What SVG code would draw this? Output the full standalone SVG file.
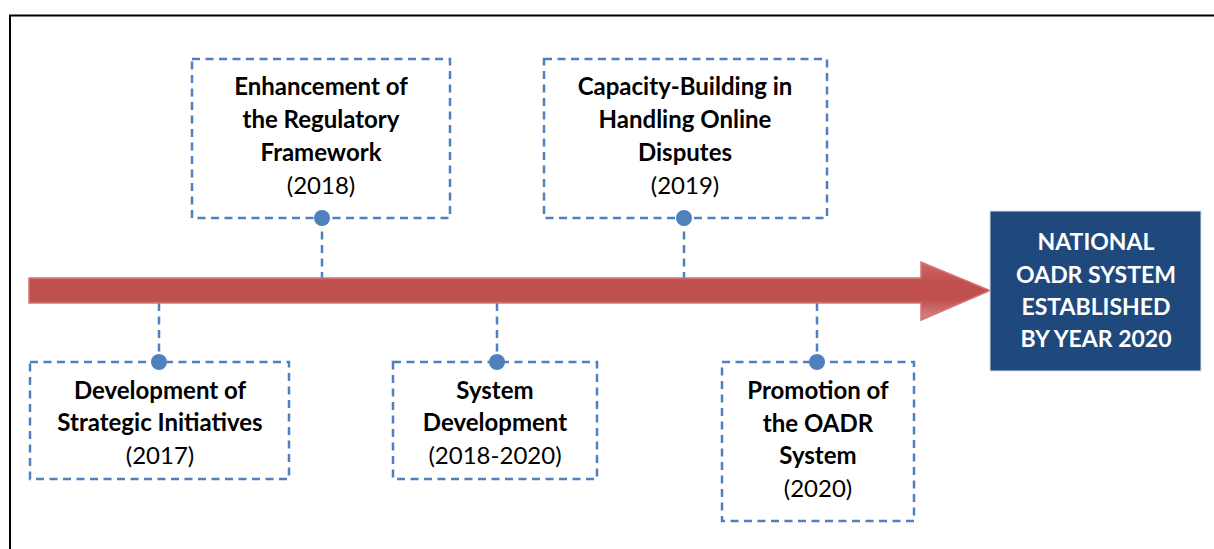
<svg xmlns="http://www.w3.org/2000/svg" width="1214" height="549" viewBox="0 0 1214 549">
  <defs>
    <style>
      .box { fill: #ffffff; stroke: #4F81BD; stroke-width: 2.5; stroke-dasharray: 8 5.5; }
      .link { fill: none; stroke: #4F81BD; stroke-width: 2.5; stroke-dasharray: 8 5.5; }
      .dot { fill: #4F81BD; }
      .t { font-family: Lato, "Open Sans", sans-serif; font-size: 24px; text-anchor: middle; fill: #000000; }
      .b { font-weight: bold; }
      .w { fill: #ffffff; font-weight: bold; font-size: 23px; }
    </style>
    <linearGradient id="arrowFill" x1="0" y1="0" x2="0" y2="1">
      <stop offset="0" stop-color="#CC6865"/>
      <stop offset="0.35" stop-color="#C0504D"/>
      <stop offset="0.65" stop-color="#C0504D"/>
      <stop offset="1" stop-color="#D58A88"/>
    </linearGradient>
  </defs>

  <rect x="0" y="0" width="1214" height="549" fill="#ffffff"/>

  <!-- page frame -->
  <path d="M10 560 V15.5 H1220" fill="none" stroke="#000000" stroke-width="2"/>

  <!-- connectors -->
  <g id="connectors">
    <line class="link" x1="322" y1="218" x2="322" y2="281"/>
    <line class="link" x1="684" y1="218" x2="684" y2="281"/>
    <line class="link" x1="159" y1="303" x2="159" y2="362"/>
    <line class="link" x1="497" y1="303" x2="497" y2="362"/>
    <line class="link" x1="817" y1="303" x2="817" y2="362"/>
  </g>

  <!-- timeline arrow -->
  <g id="timeline">
    <path d="M29 278 H921 V262 L990 290.5 L921 320 V303 H29 Z" fill="url(#arrowFill)" stroke="#D27673" stroke-width="1.5"/>
  </g>

  <g id="node-2018">
    <rect class="box" x="192" y="59" width="258" height="159"/>
    <text class="t b" x="321" y="95">Enhancement of</text>
    <text class="t b" x="321" y="128">the Regulatory</text>
    <text class="t b" x="321" y="161">Framework</text>
    <text class="t" x="321" y="194">(2018)</text>
    <circle class="dot" cx="322" cy="218" r="8"/>
  </g>

  <g id="node-2019">
    <rect class="box" x="544" y="59" width="283" height="159"/>
    <text class="t b" x="685" y="95">Capacity-Building in</text>
    <text class="t b" x="685" y="128">Handling Online</text>
    <text class="t b" x="685" y="161">Disputes</text>
    <text class="t" x="685" y="194">(2019)</text>
    <circle class="dot" cx="684" cy="218" r="8"/>
  </g>

  <g id="node-2017">
    <rect class="box" x="30" y="362" width="259" height="117"/>
    <text class="t b" x="160" y="399">Development of</text>
    <text class="t b" x="160" y="431">Strategic Initiatives</text>
    <text class="t" x="160" y="464">(2017)</text>
    <circle class="dot" cx="159" cy="362" r="8"/>
  </g>

  <g id="node-2018-2020">
    <rect class="box" x="393" y="362" width="204" height="117"/>
    <text class="t b" x="495" y="399">System</text>
    <text class="t b" x="495" y="431">Development</text>
    <text class="t" x="495" y="464">(2018-2020)</text>
    <circle class="dot" cx="497" cy="362" r="8"/>
  </g>

  <g id="node-2020">
    <rect class="box" x="722" y="362" width="192" height="159"/>
    <text class="t b" x="818" y="399">Promotion of</text>
    <text class="t b" x="818" y="432">the OADR</text>
    <text class="t b" x="818" y="464">System</text>
    <text class="t" x="818" y="497">(2020)</text>
    <circle class="dot" cx="817" cy="362" r="8"/>
  </g>

  <g id="goal">
    <rect x="990" y="211" width="211" height="160" fill="#1F497D" stroke="#D9E2EE" stroke-width="1"/>
    <text class="t w" x="1096" y="250">NATIONAL</text>
    <text class="t w" x="1096" y="283">OADR SYSTEM</text>
    <text class="t w" x="1096" y="315">ESTABLISHED</text>
    <text class="t w" x="1096" y="347">BY YEAR 2020</text>
  </g>
</svg>
